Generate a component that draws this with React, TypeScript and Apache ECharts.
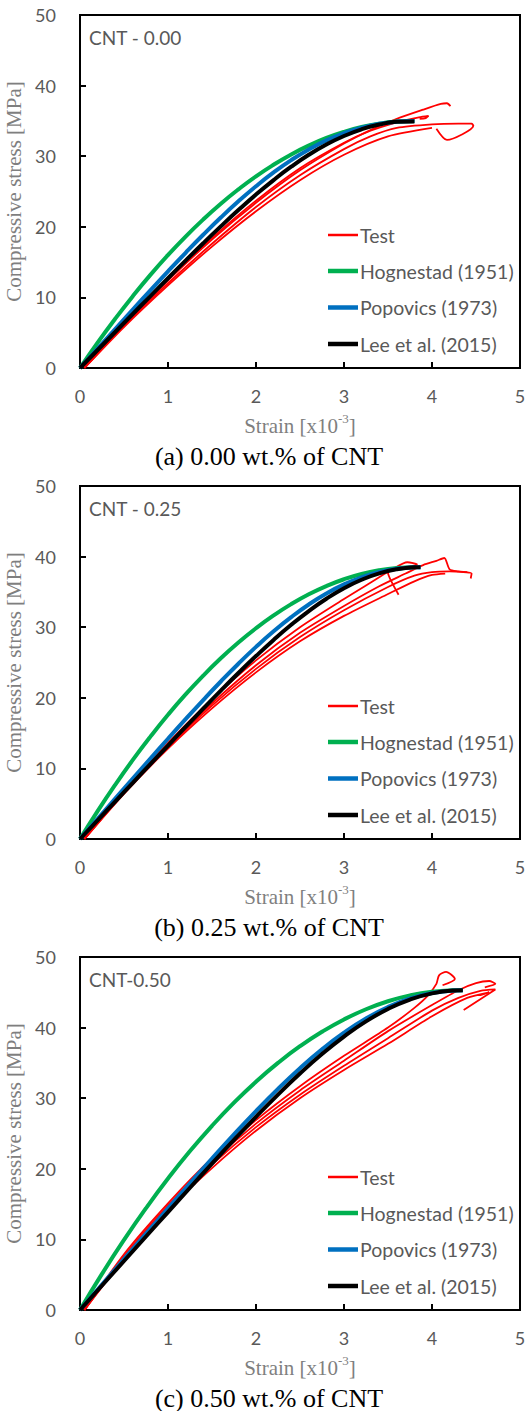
import React, { useEffect, useRef } from "react";
import * as echarts from "echarts";

// ---------- data ----------
const panelLabels = ["CNT - 0.00", "CNT - 0.25", "CNT-0.50"];
const captions = ["(a) 0.00 wt.% of CNT", "(b) 0.25 wt.% of CNT", "(c) 0.50 wt.% of CNT"];
const legendNames = ["Test", "Hognestad (1951)", "Popovics (1973)", "Lee et al. (2015)"];
const xTicks = [0, 5, 1]; // min, max, interval
const yTicks = [0, 50, 10];

const strainA = [0, 0.2, 0.4, 0.6, 0.8, 1, 1.2, 1.4, 1.6, 1.8, 2, 2.2, 2.4, 2.6, 2.8, 3, 3.2, 3.4, 3.6, 3.8];
const strainB = [0, 0.2, 0.4, 0.6, 0.8, 1, 1.2, 1.4, 1.6, 1.8, 2, 2.2, 2.4, 2.6, 2.8, 3, 3.2, 3.4, 3.6, 3.8, 3.87];
const strainC = [0, 0.25, 0.5, 0.75, 1, 1.25, 1.5, 1.75, 2, 2.25, 2.5, 2.75, 3, 3.25, 3.5, 3.75, 4, 4.25, 4.35];

// panel (a)
const hog1 = [0, 3.59, 6.98, 10.18, 13.19, 16.0, 18.62, 21.04, 23.27, 25.3, 27.15, 28.79, 30.25, 31.51, 32.58, 33.45, 34.13, 34.61, 34.9, 35.0];
const pop1 = [0, 2.76, 5.52, 8.27, 11.0, 13.69, 16.32, 18.87, 21.31, 23.61, 25.75, 27.71, 29.45, 30.96, 32.24, 33.26, 34.05, 34.59, 34.9, 35.0];
const lee1 = [0, 2.55, 5.1, 7.65, 10.19, 12.71, 15.21, 17.67, 20.06, 22.37, 24.57, 26.62, 28.51, 30.2, 31.65, 32.86, 33.81, 34.48, 34.87, 34.9];
const test1 = [
  [[0.05, 0], [0.5, 6.1], [1, 12.4], [1.5, 18.2], [2, 23.4], [2.5, 28.0], [3, 31.8], [3.3, 33.7], [3.6, 35.3], [3.9, 36.6], [4.1, 37.4], [4.17, 37.5], [4.21, 37.1]],
  [[0.05, 0], [0.5, 6.2], [1, 12.5], [1.5, 18.4], [2, 23.7], [2.5, 28.3], [3, 31.9], [3.3, 33.6], [3.6, 34.8], [3.85, 35.5], [3.96, 35.7], [3.93, 35.4], [3.86, 35.3]],
  [[0.05, 0], [0.5, 6.0], [1, 12.0], [1.5, 17.6], [2, 22.8], [2.5, 27.3], [3, 31.0], [3.3, 32.8], [3.6, 34.0], [4.0, 34.5], [4.3, 34.6], [4.45, 34.6], [4.47, 34.3], [4.17, 32.3], [4.05, 33.9]],
  [[0.05, 0], [0.5, 5.8], [1, 11.7], [1.5, 17.2], [2, 22.2], [2.5, 26.6], [3, 30.2], [3.5, 32.8], [4.0, 34.0]],
];

// panel (b)
const hog2 = [0, 3.95, 7.68, 11.2, 14.5, 17.6, 20.48, 23.14, 25.6, 27.84, 29.86, 31.67, 33.27, 34.66, 35.83, 36.79, 37.54, 38.07, 38.39, 38.5];
const pop2 = [0, 2.85, 5.71, 8.56, 11.39, 14.2, 16.97, 19.68, 22.31, 24.83, 27.21, 29.42, 31.43, 33.22, 34.77, 36.06, 37.07, 37.81, 38.28, 38.49, 38.5];
const lee2 = [0, 2.65, 5.31, 7.96, 10.61, 13.24, 15.87, 18.46, 21.02, 23.51, 25.91, 28.2, 30.34, 32.29, 34.03, 35.52, 36.72, 37.63, 38.21, 38.48, 38.5];
const test2 = [
  [[0.05, 0], [0.5, 6.6], [1, 13.2], [1.5, 19.2], [2, 24.6], [2.5, 29.2], [3, 33.0], [3.4, 35.8], [3.7, 37.6], [3.9, 38.8], [4.05, 39.4], [4.14, 39.8], [4.2, 38.2], [4.3, 37.9], [4.45, 37.6], [4.44, 36.9]],
  [[0.05, 0], [0.5, 6.8], [1, 13.6], [1.5, 19.8], [2, 25.3], [2.5, 30.0], [3, 34.0], [3.3, 36.3], [3.55, 38.2], [3.72, 39.2], [3.83, 38.9], [3.5, 37.7], [3.62, 34.6]],
  [[0.05, 0], [0.5, 6.5], [1, 13.0], [1.5, 18.9], [2, 24.1], [2.5, 28.6], [3, 32.4], [3.5, 35.7], [3.8, 37.3], [4.0, 37.8], [4.2, 37.9], [4.4, 37.8]],
  [[0.05, 0], [0.5, 6.4], [1, 12.8], [1.5, 18.5], [2, 23.6], [2.5, 28.0], [3, 31.6], [3.5, 34.7], [3.8, 36.5], [4.0, 37.4], [4.15, 37.6]],
];

// panel (c)
const hog3 = [0, 5.11, 9.92, 14.42, 18.62, 22.51, 26.09, 29.37, 32.34, 35.0, 37.36, 39.41, 41.16, 42.6, 43.73, 44.56, 45.08, 45.28, 45.3];
const pop3 = [0, 3.6, 7.21, 10.81, 14.39, 17.95, 21.45, 24.87, 28.18, 31.32, 34.25, 36.93, 39.29, 41.3, 42.92, 44.12, 44.91, 45.27, 45.3];
const lee3 = [0, 3.47, 6.94, 10.41, 13.87, 17.32, 20.73, 24.09, 27.36, 30.51, 33.49, 36.25, 38.73, 40.88, 42.64, 43.97, 44.85, 45.26, 45.3];
const test3 = [
  [[0.05, 0], [0.5, 7.9], [1, 15.1], [1.5, 21.5], [2, 26.9], [2.5, 31.7], [3, 36.0], [3.5, 40.0], [3.8, 42.8], [3.95, 44.5], [4.05, 46.2], [4.08, 47.4], [4.16, 47.9], [4.26, 46.9], [4.12, 46.0]],
  [[0.05, 0], [0.5, 7.6], [1, 14.8], [1.5, 21.0], [2, 26.4], [2.5, 31.1], [3, 35.3], [3.5, 39.5], [4.0, 43.2], [4.3, 45.3], [4.5, 46.3], [4.65, 46.6], [4.72, 46.2], [4.6, 45.7]],
  [[0.05, 0], [0.5, 7.4], [1, 14.5], [1.5, 20.6], [2, 25.9], [2.5, 30.5], [3, 34.6], [3.5, 38.5], [4.0, 42.4], [4.3, 44.2], [4.55, 45.2], [4.72, 45.4], [4.36, 42.5]],
  [[0.05, 0], [0.5, 7.2], [1, 14.2], [1.5, 20.1], [2, 25.4], [2.5, 30.0], [3, 34.0], [3.5, 37.7], [4.0, 41.6], [4.4, 44.2], [4.65, 45.0], [4.55, 44.6]],
];

const panels = [
  { hx: strainA, hy: hog1, px: strainA, py: pop1, lx: strainA, ly: lee1, tests: test1 },
  { hx: strainA, hy: hog2, px: strainB, py: pop2, lx: strainB, ly: lee2, tests: test2 },
  { hx: strainC, hy: hog3, px: strainC, py: pop3, lx: strainC, ly: lee3, tests: test3 },
];

// ---------- styles ----------
const RED = "#FF0000";
const GREEN = "#00B050";
const BLUE = "#0070C0";
const BLACK = "#000000";
const legendColors = [RED, GREEN, BLUE, BLACK];
const legendWidths = [2.5, 4.5, 4.5, 4.5];
const SANS = "Lato";
const SERIF = "'Liberation Serif', 'Times New Roman', serif";
const TOP0 = 15;
const STEP = 471;
const LEFT = 80;
const W = 440;
const H = 353;

const zip = (xs: number[], ys: number[]) => xs.map((x, i) => [x, ys[i]]);

function buildOption() {
  const grid: any[] = [];
  const xAxis: any[] = [];
  const yAxis: any[] = [];
  const series: any[] = [];
  const graphic: any[] = [];

  panels.forEach((p, gi) => {
    const T = TOP0 + STEP * gi;
    grid.push({
      left: LEFT, top: T, width: W, height: H,
      containLabel: false, outerBoundsMode: "none",
      show: true, borderColor: "#000", borderWidth: 2, backgroundColor: "transparent",
    });
    xAxis.push({
      gridIndex: gi, type: "value", min: xTicks[0], max: xTicks[1], interval: xTicks[2],
      axisLine: { show: true, onZero: false, lineStyle: { color: "#000", width: 2 } },
      axisTick: { show: true, inside: true, length: 6, lineStyle: { color: "#000", width: 2 } },
      axisLabel: { color: "#595959", fontFamily: SANS, fontSize: 18, margin: 19 },
      splitLine: { show: false },
      name: "{t|Strain [x10}{s|-3}{t|]}",
      nameLocation: "middle",
      nameGap: 44,
      nameTextStyle: {
        rich: {
          t: { fontFamily: SERIF, fontSize: 21, color: "#7f7f7f", lineHeight: 24, verticalAlign: "bottom" },
          s: { fontFamily: SERIF, fontSize: 13, color: "#7f7f7f", lineHeight: 24, verticalAlign: "top" },
        },
      },
    });
    yAxis.push({
      gridIndex: gi, type: "value", min: yTicks[0], max: yTicks[1], interval: yTicks[2],
      axisLine: { show: true, onZero: false, lineStyle: { color: "#000", width: 2 } },
      axisTick: { show: true, inside: true, length: 6, lineStyle: { color: "#000", width: 2 } },
      axisLabel: { color: "#595959", fontFamily: SANS, fontSize: 18, margin: 24 },
      splitLine: { show: false },
      name: "Compressive stress [MPa]",
      nameLocation: "middle",
      nameGap: 47,
      nameTextStyle: { fontFamily: SERIF, fontSize: 21, color: "#7f7f7f" },
    });

    const base = (name: string, data: any, color: string, width: number, smooth: any, z: number) => ({
      type: "line", name, data, xAxisIndex: gi, yAxisIndex: gi,
      showSymbol: false, symbol: "none", smooth, z,
      lineStyle: { color, width }, itemStyle: { color },
    });
    p.tests.forEach((t) => series.push(base(legendNames[0], t, RED, 1.8, 0.25, 2)));
    series.push(base(legendNames[1], zip(p.hx, p.hy), GREEN, 4, true, 3));
    series.push(base(legendNames[2], zip(p.px, p.py), BLUE, 4, true, 4));
    series.push(base(legendNames[3], zip(p.lx, p.ly), BLACK, 4, true, 5));

    // panel label
    graphic.push({
      type: "text", x: LEFT + 9, y: T + 22, z: 10,
      style: {
        text: panelLabels[gi], fill: "#595959", font: `19px ${SANS}`,
        fontFamily: SANS, fontSize: 19,
        verticalAlign: "middle", textVerticalAlign: "middle",
      },
    });
    // legend
    const ly = [220, 256, 292.5, 329];
    legendNames.forEach((n, k) => {
      graphic.push({
        type: "line", z: 10,
        shape: { x1: 328, y1: T + ly[k], x2: 358, y2: T + ly[k] },
        style: { stroke: legendColors[k], lineWidth: legendWidths[k] },
      });
      graphic.push({
        type: "text", x: 360, y: T + ly[k], z: 10,
        style: {
          text: n, fill: "#595959", font: `19.5px ${SANS}`,
          fontFamily: SANS, fontSize: 19.5,
          verticalAlign: "middle", textVerticalAlign: "middle",
        },
      });
    });
    // caption
    graphic.push({
      type: "text", x: 269, y: T + 441, z: 10,
      style: {
        text: captions[gi], fill: "#000", font: `26px ${SERIF}`,
        fontFamily: SERIF, fontSize: 26,
        align: "center", textAlign: "center",
        verticalAlign: "middle", textVerticalAlign: "middle",
      },
    });
  });

  return { animation: false, backgroundColor: "#fff", grid, xAxis, yAxis, series, graphic };
}

export default function App() {
  const ref = useRef<HTMLDivElement>(null);
  useEffect(() => {
    if (!ref.current) return;
    const chart = echarts.init(ref.current, undefined, { renderer: "svg" });
    chart.setOption(buildOption() as any);
    return () => chart.dispose();
  }, []);
  return (
    <div
      ref={ref}
      style={{ position: "absolute", left: 0, top: 0, width: 531, height: 1411, background: "#fff" }}
    />
  );
}
